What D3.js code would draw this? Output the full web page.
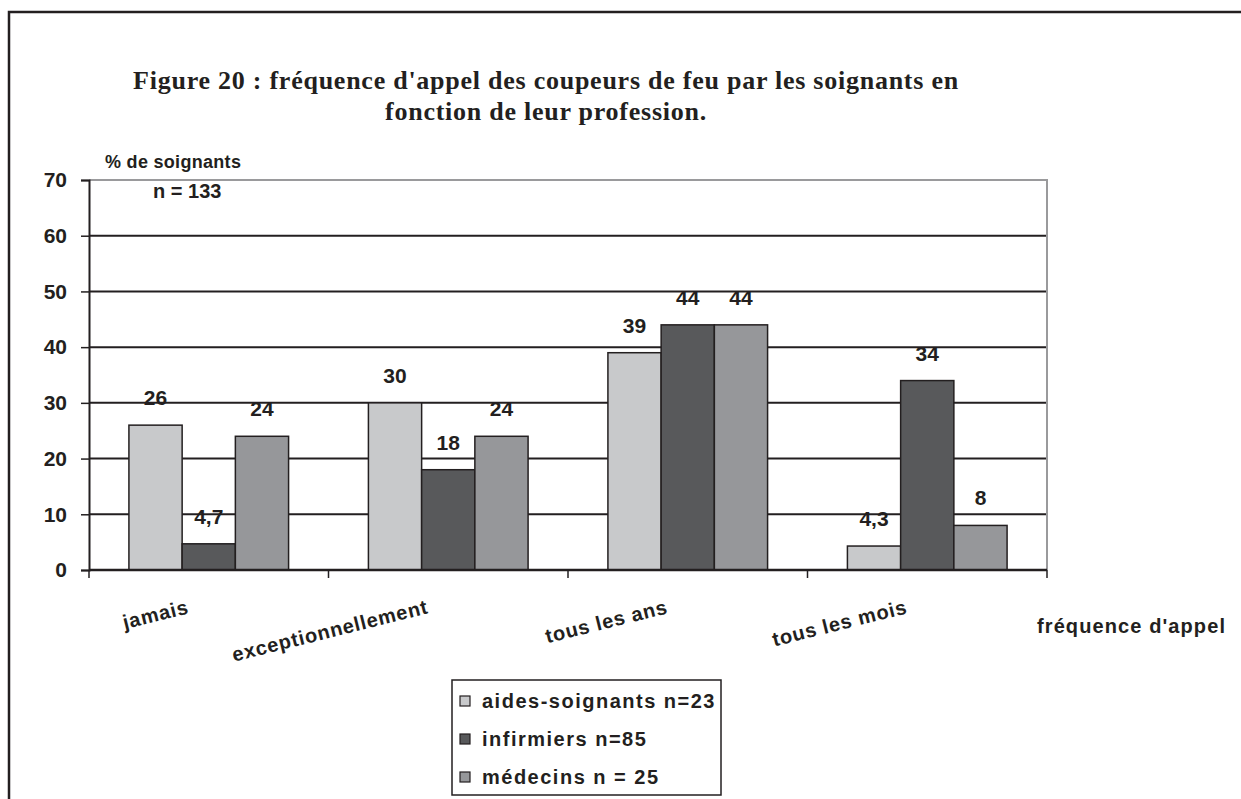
<!DOCTYPE html>
<html>
<head>
<meta charset="utf-8">
<script src="https://cdn.jsdelivr.net/npm/d3@7"></script>
<style>
  body { margin: 0; background: #fff; }
  svg text { font-family: "Liberation Sans", Arial, sans-serif; font-weight: bold; fill: #231f20; }
</style>
</head>
<body>
<svg id="chart"></svg>
<script>
var width = 1241;
var height = 799;

// data
var categories = ["jamais", "exceptionnellement", "tous les ans", "tous les mois"];
var series = ["aides-soignants n=23", "infirmiers n=85", "médecins n = 25"];
var aides = [26, 30, 39, 4.3];
var infirmiers = [4.7, 18, 44, 34];
var medecins = [24, 24, 44, 8];
var yTicks = [0, 10, 20, 30, 40, 50, 60, 70];
var titleLines = ["Figure 20 : fréquence d'appel des coupeurs de feu par les soignants en",
                  "fonction de leur profession."];

var colors = ["#c8c9cb", "#58595b", "#96979a"];
var ink = "#231f20";

var plot = { left: 89, right: 1047, top: 180, bottom: 570 };

var svg = d3.select("#chart")
  .attr("width", width)
  .attr("height", height);

// outer frame (runs off the page right and bottom)
svg.append("rect")
  .attr("x", 9).attr("y", 12)
  .attr("width", 1400).attr("height", 900)
  .attr("fill", "none")
  .attr("stroke", ink)
  .attr("stroke-width", 2.5);

// title, both lines centred, loosely spaced like the scan
svg.selectAll(".title")
  .data(titleLines)
  .enter().append("text")
  .attr("class", "title")
  .attr("x", 546)
  .attr("y", function(d, i){ return 89 + i * 31; })
  .attr("text-anchor", "middle")
  .style("font-family", "'Liberation Serif', 'Times New Roman', serif")
  .style("font-size", "26px")
  .style("letter-spacing", "0.75px")
  .text(function(d){ return d; });

var x0 = d3.scaleBand()
  .domain(categories)
  .range([plot.left, plot.right]);

var bw = x0.bandwidth();
var x1 = d3.scaleBand()
  .domain(series)
  .range([bw / 6, bw * 5 / 6]);

var y = d3.scaleLinear()
  .domain([0, 70])
  .range([plot.bottom, plot.top]);

// gridlines
svg.selectAll(".grid")
  .data(yTicks.filter(function(t){ return t > 0 && t < 70; }))
  .enter().append("line")
  .attr("class", "grid")
  .attr("x1", plot.left).attr("x2", plot.right)
  .attr("y1", function(d){ return y(d); })
  .attr("y2", function(d){ return y(d); })
  .attr("stroke", ink)
  .attr("stroke-width", 2);

// plot frame top / right in grey
svg.append("path")
  .attr("d", "M" + plot.left + "," + y(70) + "H" + plot.right + "V" + y(0))
  .attr("fill", "none")
  .attr("stroke", "#9a9a9c")
  .attr("stroke-width", 2);

// bars
var rows = categories.map(function(c, i){
  return { cat: c, vals: [aides[i], infirmiers[i], medecins[i]] };
});

var groups = svg.selectAll(".grp")
  .data(rows)
  .enter().append("g")
  .attr("class", "grp")
  .attr("transform", function(d){ return "translate(" + x0(d.cat) + ",0)"; });

groups.selectAll("rect")
  .data(function(d){ return d.vals.map(function(v, j){ return { s: series[j], v: v, j: j }; }); })
  .enter().append("rect")
  .attr("x", function(d){ return x1(d.s); })
  .attr("width", x1.bandwidth())
  .attr("y", function(d){ return y(d.v); })
  .attr("height", function(d){ return y(0) - y(d.v); })
  .attr("fill", function(d){ return colors[d.j]; })
  .attr("stroke", ink)
  .attr("stroke-width", 1.5);

groups.selectAll(".val")
  .data(function(d){ return d.vals.map(function(v, j){ return { s: series[j], v: v }; }); })
  .enter().append("text")
  .attr("class", "val")
  .attr("x", function(d){ return x1(d.s) + x1.bandwidth() / 2; })
  .attr("y", function(d){ return y(d.v) - 20; })
  .attr("text-anchor", "middle")
  .style("font-size", "21px")
  .text(function(d){ return String(d.v).replace(".", ","); });

// y axis
var yAxis = d3.axisLeft(y)
  .tickValues(yTicks)
  .tickSize(8)
  .tickPadding(14);

var ya = svg.append("g")
  .attr("transform", "translate(" + plot.left + ",0)")
  .call(yAxis);
ya.select(".domain").attr("stroke", ink).attr("stroke-width", 2);
ya.selectAll(".tick line").attr("stroke", ink).attr("stroke-width", 1.5);
ya.selectAll(".tick text")
  .attr("fill", ink)
  .style("font-family", "'Liberation Sans', Arial, sans-serif")
  .style("font-weight", "bold")
  .style("font-size", "21px");

// x axis line and category separators
svg.append("line")
  .attr("x1", plot.left).attr("x2", plot.right)
  .attr("y1", y(0)).attr("y2", y(0))
  .attr("stroke", ink)
  .attr("stroke-width", 2.5);

var seps = categories.map(function(c){ return x0(c); }).concat([plot.right]);
svg.selectAll(".xtick")
  .data(seps)
  .enter().append("line")
  .attr("class", "xtick")
  .attr("x1", function(d){ return d; }).attr("x2", function(d){ return d; })
  .attr("y1", y(0)).attr("y2", y(0) + 8)
  .attr("stroke", ink)
  .attr("stroke-width", 1.5);

// rotated category labels
svg.selectAll(".cat")
  .data(categories)
  .enter().append("text")
  .attr("class", "cat")
  .attr("text-anchor", "end")
  .attr("transform", function(d){
    return "translate(" + (x0(d) + bw / 2 - 19) + ",613) rotate(-14)";
  })
  .style("font-size", "20px")
  .style("letter-spacing", "0.8px")
  .text(function(d){ return d; });

// axis titles
svg.append("text")
  .attr("x", 105).attr("y", 168)
  .style("font-size", "18px")
  .style("letter-spacing", "0.3px")
  .text("% de soignants");

svg.append("text")
  .attr("x", 153).attr("y", 198)
  .style("font-size", "20px")
  .text("n = 133");

svg.append("text")
  .attr("x", 1037).attr("y", 633)
  .style("font-size", "20px")
  .style("letter-spacing", "1.1px")
  .text("fréquence d'appel");

// legend
var lg = svg.append("g").attr("transform", "translate(452,680)");
lg.append("rect")
  .attr("width", 269).attr("height", 115)
  .attr("fill", "#fff")
  .attr("stroke", ink)
  .attr("stroke-width", 1.5);

var items = lg.selectAll(".item")
  .data(series)
  .enter().append("g")
  .attr("class", "item")
  .attr("transform", function(d, i){ return "translate(0," + (i * 38) + ")"; });

items.append("rect")
  .attr("x", 8).attr("y", 16)
  .attr("width", 10).attr("height", 10)
  .attr("fill", function(d, i){ return colors[i]; })
  .attr("stroke", ink)
  .attr("stroke-width", 1.2);

items.append("text")
  .attr("x", 30).attr("y", 28)
  .style("font-size", "20px")
  .style("letter-spacing", "1.5px")
  .text(function(d){ return d; });
</script>
</body>
</html>
